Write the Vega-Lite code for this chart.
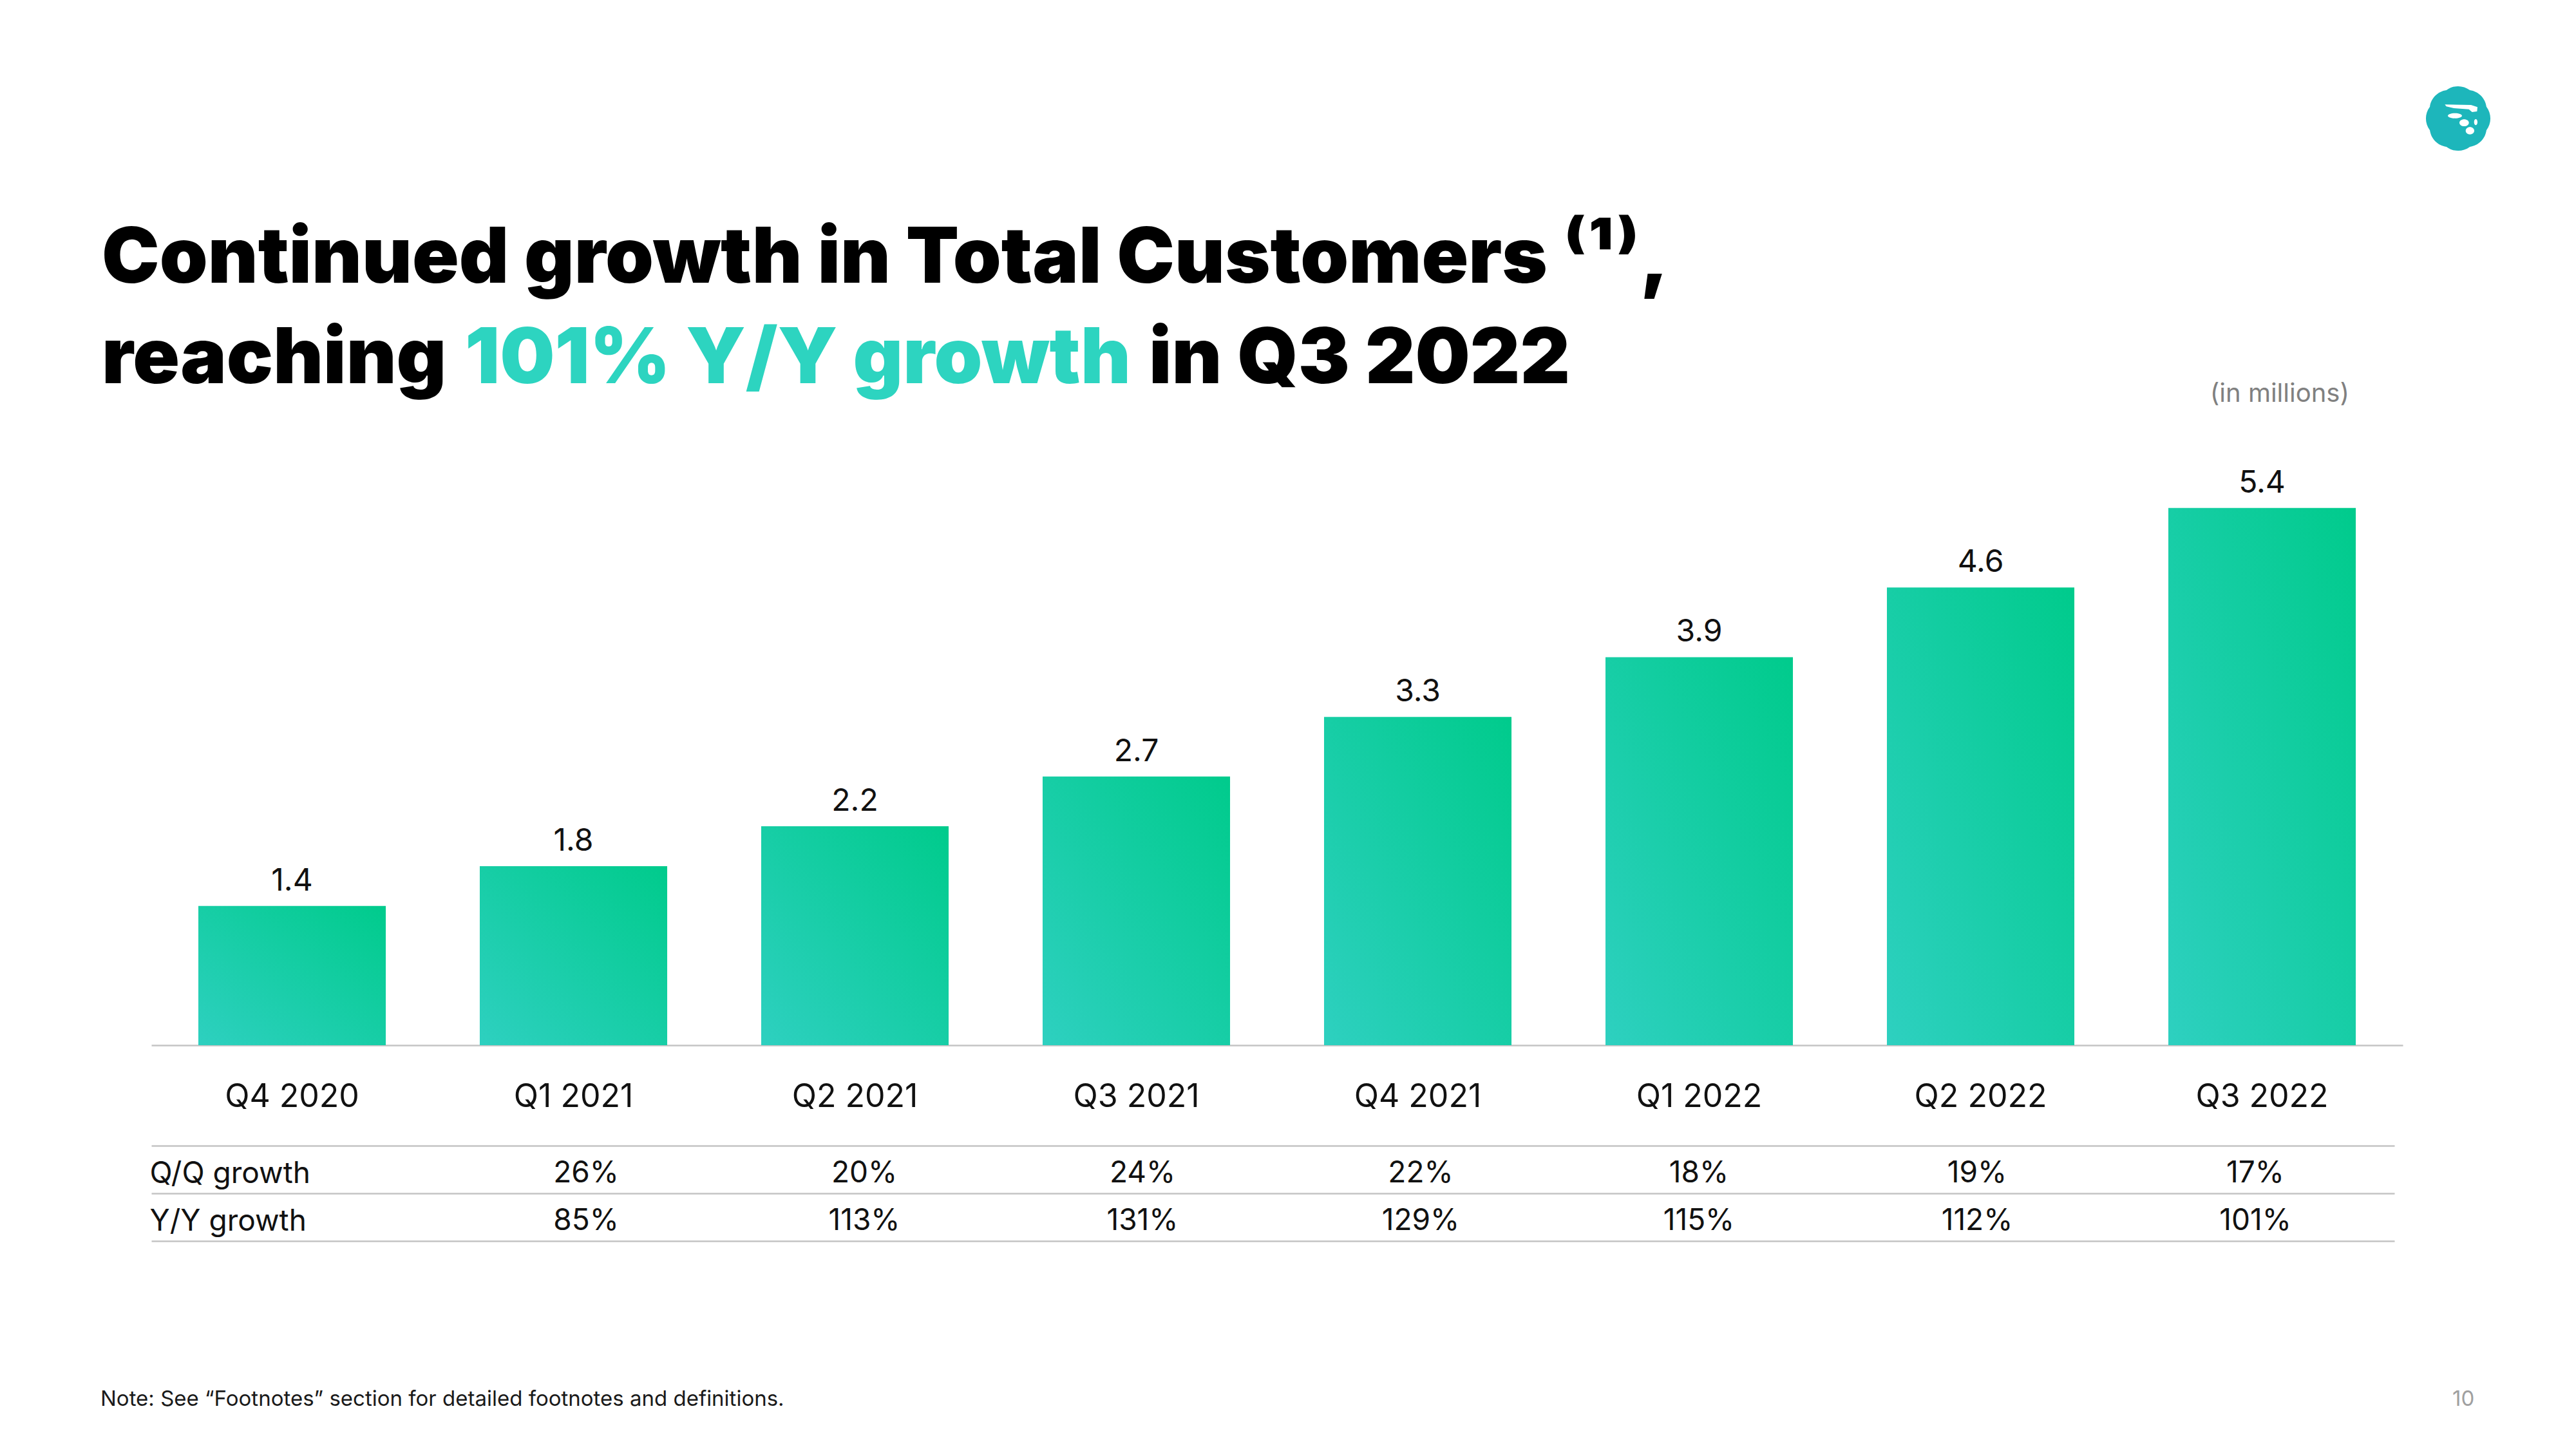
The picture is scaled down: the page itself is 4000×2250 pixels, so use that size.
{
  "$schema": "https://vega.github.io/schema/vega-lite/v6.json",
  "background": "white",
  "padding": {"left": 156, "top": 133, "right": 20, "bottom": 20},
  "config": {
    "view": {"stroke": null},
    "font": "Inter",
    "title": {"font": "Inter"}
  },
  "datasets": {
    "customers": [
      {"quarter": "Q4 2020", "customers": 1.4, "Q/Q growth": null, "Y/Y growth": null},
      {"quarter": "Q1 2021", "customers": 1.8, "Q/Q growth": 0.26, "Y/Y growth": 0.85},
      {"quarter": "Q2 2021", "customers": 2.2, "Q/Q growth": 0.20, "Y/Y growth": 1.13},
      {"quarter": "Q3 2021", "customers": 2.7, "Q/Q growth": 0.24, "Y/Y growth": 1.31},
      {"quarter": "Q4 2021", "customers": 3.3, "Q/Q growth": 0.22, "Y/Y growth": 1.29},
      {"quarter": "Q1 2022", "customers": 3.9, "Q/Q growth": 0.18, "Y/Y growth": 1.15},
      {"quarter": "Q2 2022", "customers": 4.6, "Q/Q growth": 0.19, "Y/Y growth": 1.12},
      {"quarter": "Q3 2022", "customers": 5.4, "Q/Q growth": 0.17, "Y/Y growth": 1.01}
    ],
    "logo": [{"brand": "MoneyLion"}],
    "blank": [{"item": "text"}]
  },
  "spacing": 108,
  "vconcat": [
    {
      "width": 3582,
      "height": 1,
      "data": {"name": "logo"},
      "layer": [
        {
          "mark": {"type": "point", "filled": true, "opacity": 1, "color": "#1DB6BB", "size": 10000, "strokeWidth": 0,
            "shape": "M0.878,0.364A0.6,0.6,0,0,1,0.364,0.878A0.6,0.6,0,0,1,-0.364,0.878A0.6,0.6,0,0,1,-0.878,0.364A0.6,0.6,0,0,1,-0.878,-0.364A0.6,0.6,0,0,1,-0.364,-0.878A0.6,0.6,0,0,1,0.364,-0.878A0.6,0.6,0,0,1,0.878,-0.364A0.6,0.6,0,0,1,0.878,0.364Z"},
          "encoding": {"x": {"value": "width"}, "y": {"value": "height"}}
        },
        {
          "mark": {"type": "point", "filled": true, "opacity": 1, "color": "#ffffff", "size": 10000, "strokeWidth": 0,
            "shape": "M-0.413,-0.433L0.4,-0.42L0.6,-0.353L0.587,-0.22L0.433,-0.2L0.333,-0.287L-0.133,-0.32L-0.367,-0.373ZM-0.32,-0.087A0.22,0.08,0,1,0,0.12,-0.087A0.22,0.08,0,1,0,-0.32,-0.087ZM0.04,0.133A0.147,0.107,0,1,0,0.334,0.133A0.147,0.107,0,1,0,0.04,0.133ZM0.494,0.113A0.053,0.093,0,1,0,0.6,0.113A0.053,0.093,0,1,0,0.494,0.113ZM0.234,0.38A0.133,0.113,0,1,0,0.5,0.38A0.133,0.113,0,1,0,0.234,0.38Z"},
          "encoding": {"x": {"value": "width"}, "y": {"value": "height"}}
        }
      ]
    },
    {
      "spacing": -27,
      "vconcat": [
        {
          "spacing": 36,
          "vconcat": [
            {
              "width": 1, "height": 1,
              "data": {"name": "blank"},
              "mark": {"type": "point", "opacity": 0, "size": 0},
              "title": {"text": "Continued growth in Total Customers ⁽¹⁾,", "anchor": "start", "orient": "bottom", "offset": 0, "dx": -77, "baseline": "alphabetic", "fontSize": 120, "fontWeight": 900, "color": "#000000"}
            },
            {
              "spacing": 28,
              "hconcat": [
                {
                  "width": 1, "height": 1,
                  "data": {"name": "blank"},
                  "mark": {"type": "point", "opacity": 0, "size": 0},
                  "title": {"text": "reaching", "anchor": "start", "orient": "bottom", "offset": 0, "dx": -77, "baseline": "alphabetic", "fontSize": 120, "fontWeight": 900, "color": "#000000"}
                },
                {
                  "width": 1, "height": 1,
                  "data": {"name": "blank"},
                  "mark": {"type": "point", "opacity": 0, "size": 0},
                  "title": {"text": "101% Y/Y growth", "anchor": "start", "orient": "bottom", "offset": 0, "baseline": "alphabetic", "fontSize": 120, "fontWeight": 900, "color": "#2DD4C0"}
                },
                {
                  "width": 1, "height": 1,
                  "data": {"name": "blank"},
                  "mark": {"type": "point", "opacity": 0, "size": 0},
                  "title": {"text": "in Q3 2022", "anchor": "start", "orient": "bottom", "offset": 0, "baseline": "alphabetic", "fontSize": 120, "fontWeight": 900, "color": "#000000"}
                }
              ]
            }
          ]
        },
        {
          "spacing": 28,
          "vconcat": [
            {
              "width": 3496,
              "height": 927,
              "data": {"name": "customers"},
              "title": {"text": "(in millions)", "anchor": "end", "orient": "top", "offset": 32, "dx": -83, "baseline": "alphabetic", "fontSize": 40, "fontWeight": 400, "color": "#808080"},
              "encoding": {
                "x": {
                  "field": "quarter", "type": "nominal", "sort": null,
                  "scale": {"type": "band", "paddingInner": 0.334, "paddingOuter": 0.167},
                  "axis": {"title": null, "labelAngle": 0, "labelFontSize": 50, "labelColor": "#111111", "labelPadding": 55, "labelLimit": 0, "ticks": false, "tickSize": 0, "domainColor": "#C4C4C4", "domainWidth": 2.5, "grid": false, "labelFont": "Inter"}
                },
                "y": {
                  "field": "customers", "type": "quantitative",
                  "scale": {"domain": [0, 6]},
                  "axis": null
                }
              },
              "layer": [
                {
                  "mark": {
                    "type": "bar",
                    "color": {
                      "gradient": "linear", "x1": 0, "y1": 1, "x2": 1, "y2": 0,
                      "stops": [{"offset": 0, "color": "#2ED0C0"}, {"offset": 1, "color": "#00CB8C"}]
                    }
                  }
                },
                {
                  "mark": {"type": "text", "baseline": "alphabetic", "dy": -24, "fontSize": 48, "color": "#111111"},
                  "encoding": {"text": {"field": "customers", "type": "quantitative", "format": ".1f"}}
                }
              ]
            },
            {
              "spacing": 230,
              "vconcat": [
                {
                  "width": 3483,
                  "height": 148,
                  "data": {"name": "customers"},
                  "transform": [
                    {"fold": ["Q/Q growth", "Y/Y growth"], "as": ["metric", "growth"]},
                    {"filter": "datum.growth != null"}
                  ],
                  "mark": {"type": "text", "baseline": "middle", "dy": 6, "fontSize": 46, "color": "#111111"},
                  "encoding": {
                    "x": {
                      "field": "quarter", "type": "nominal", "sort": null,
                      "scale": {"type": "band", "paddingInner": 0, "paddingOuter": 0.53125, "align": 1},
                      "axis": null
                    },
                    "y": {
                      "field": "metric", "type": "nominal", "sort": null,
                      "scale": {"type": "band", "paddingInner": 0, "paddingOuter": 0},
                      "axis": {"title": null, "orient": "left", "labelAlign": "left", "labelPadding": 3, "labelLimit": 0, "labelFontSize": 46, "labelColor": "#111111", "labelBaseline": "middle", "labelOffset": 6, "ticks": false, "tickSize": 0, "domain": false, "grid": true, "tickBand": "extent", "gridColor": "#C4C4C4", "gridWidth": 2.5, "gridOpacity": 1}
                    },
                    "text": {"field": "growth", "type": "quantitative", "format": ".0%"}
                  }
                },
                {
                  "spacing": 0,
                  "hconcat": [
                    {
                      "width": 3573, "height": 1,
                      "data": {"name": "blank"},
                      "mark": {"type": "point", "opacity": 0, "size": 0},
                      "title": {"text": "Note: See “Footnotes” section for detailed footnotes and definitions.", "anchor": "start", "orient": "bottom", "offset": 0, "dx": -79, "baseline": "alphabetic", "fontSize": 33, "fontWeight": 400, "color": "#1A1A1A"}
                    },
                    {
                      "width": 1, "height": 1,
                      "data": {"name": "blank"},
                      "mark": {"type": "point", "opacity": 0, "size": 0},
                      "title": {"text": "10", "anchor": "start", "orient": "bottom", "offset": 0, "baseline": "alphabetic", "fontSize": 33, "fontWeight": 400, "color": "#A0A0A0"}
                    }
                  ]
                }
              ]
            }
          ]
        }
      ]
    }
  ]
}
